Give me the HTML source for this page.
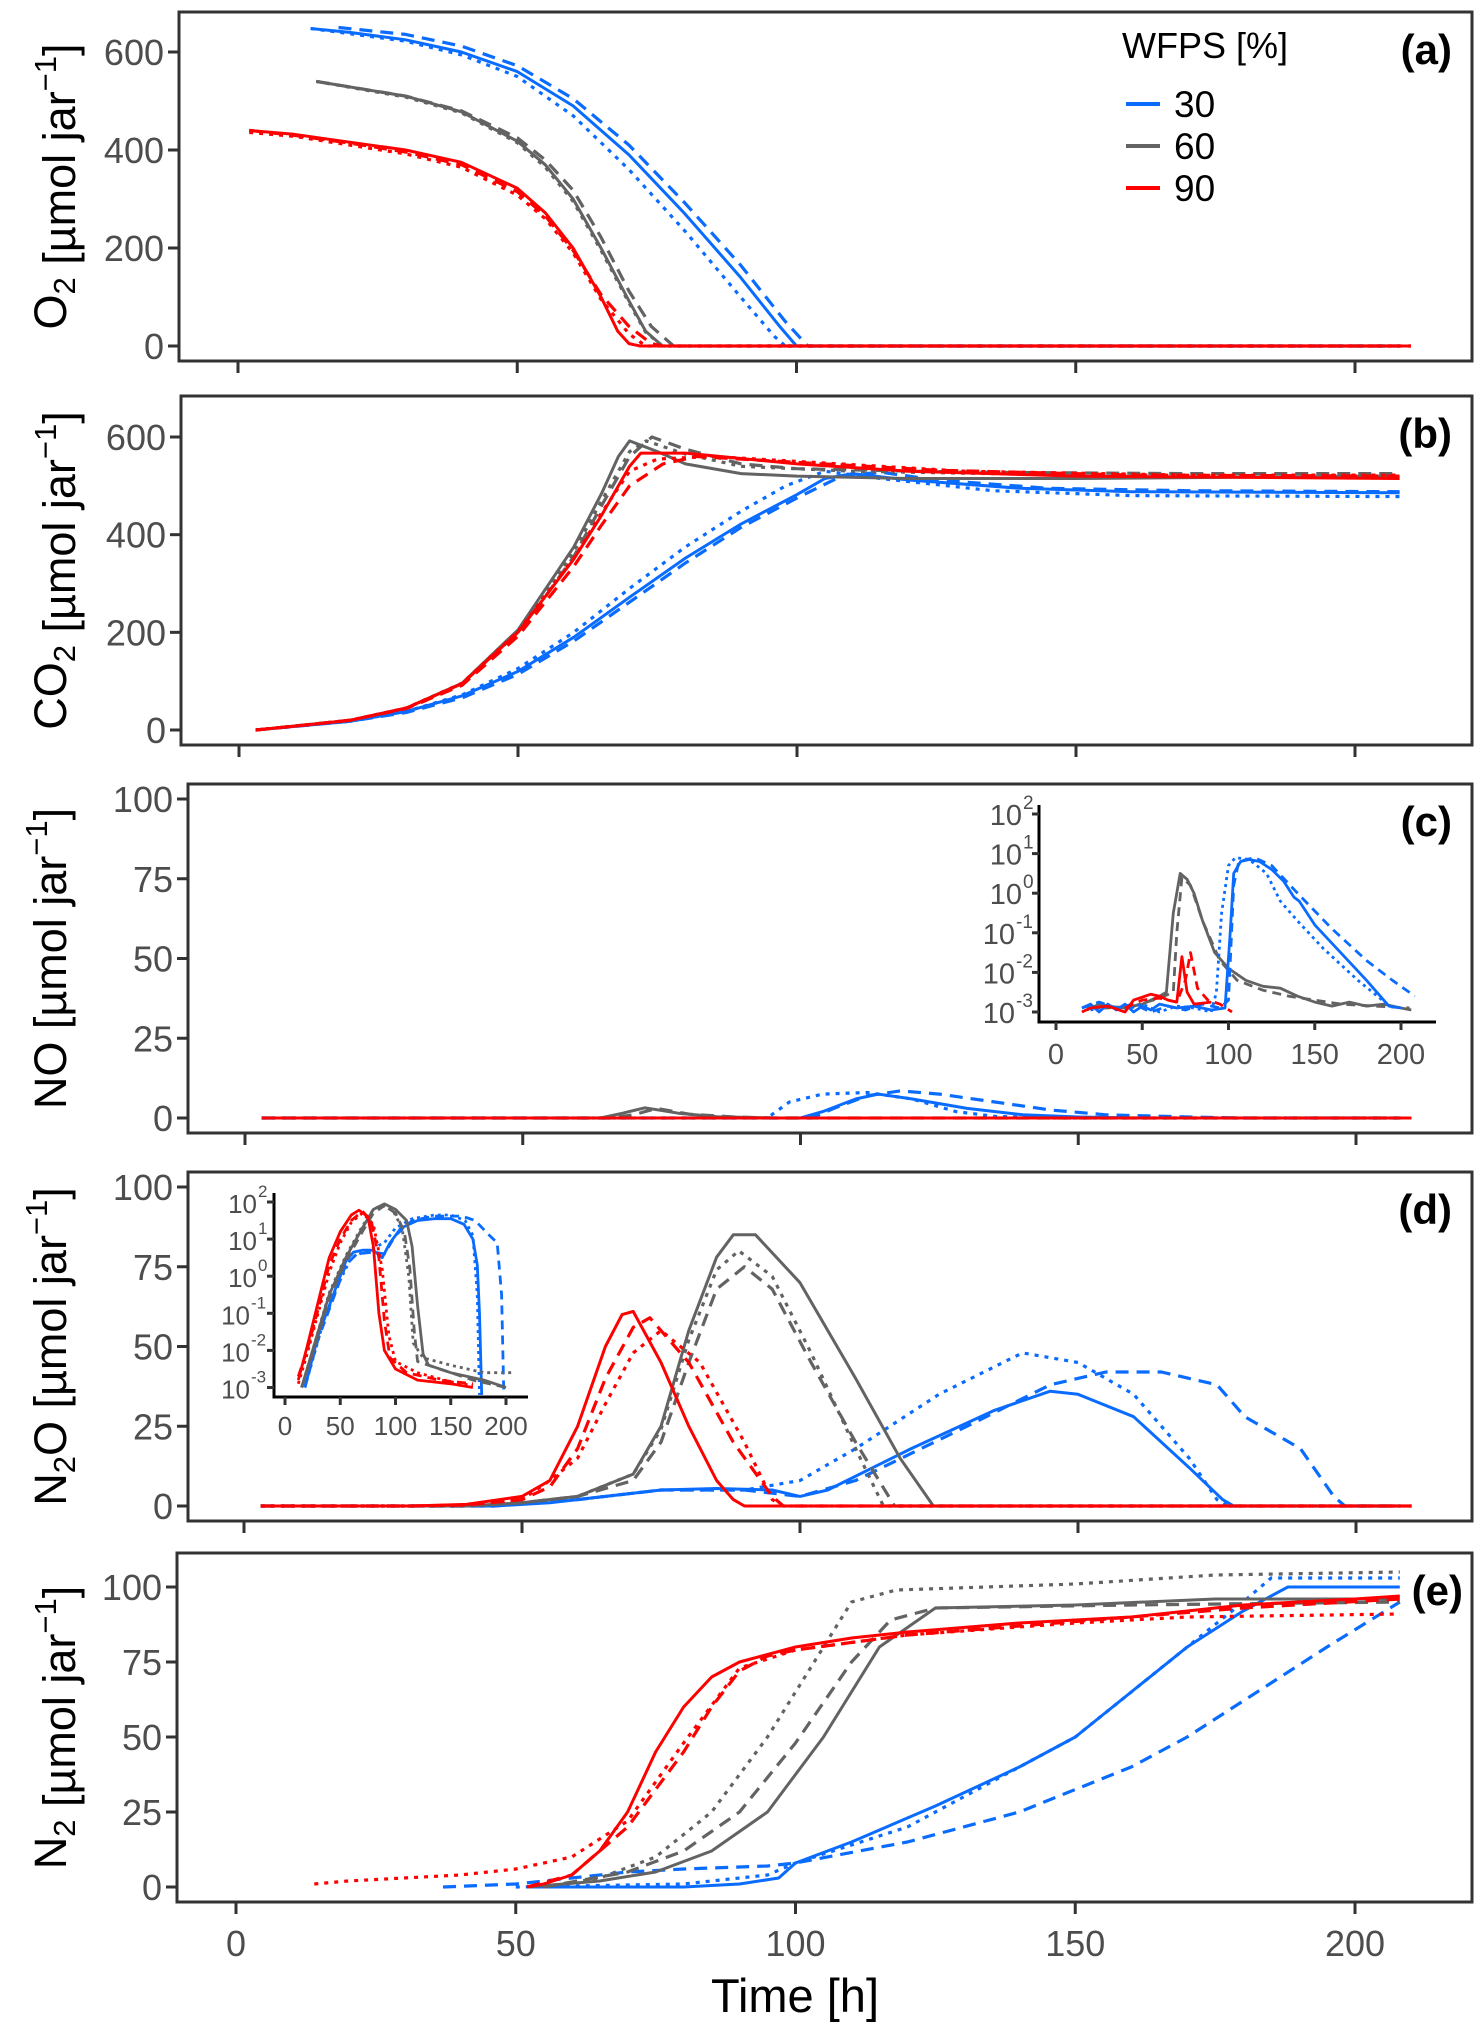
<!DOCTYPE html>
<html><head><meta charset="utf-8"><style>
html,body{margin:0;padding:0;background:#fff}
svg{display:block;font-family:"Liberation Sans",Arial,sans-serif}
</style></head><body>
<svg id="chart" width="1482" height="2030" viewBox="0 0 1482 2030" xmlns="http://www.w3.org/2000/svg"></svg>
<script>
// ---------- data (time [h], value) ----------
const xTicks = [0, 50, 100, 150, 200];
const yTicksAB = [0, 200, 400, 600];
const yTicksCDE = [0, 25, 50, 75, 100];
const logTicks = [-3, -2, -1, 0, 1, 2];
const wfpsLevels = ["30", "60", "90"];

// (a) O2
const o2_30_solid = [[13,648],[20,640],[30,625],[40,600],[50,560],[60,490],[70,390],[80,270],[90,140],[97,40],[100,0],[208,0]];
const o2_30_dash  = [[18,650],[30,636],[40,612],[50,572],[60,505],[70,410],[80,292],[90,165],[98,50],[102,0],[208,0]];
const o2_30_dot   = [[13,648],[30,622],[40,594],[50,550],[60,470],[70,360],[80,235],[90,100],[96,20],[98,0],[208,0]];
const o2_60_solid = [[14,540],[30,510],[40,478],[50,418],[55,370],[60,300],[65,200],[70,92],[73,30],[76,0],[208,0]];
const o2_60_dash  = [[14,540],[30,510],[40,480],[50,425],[55,380],[60,318],[65,222],[70,112],[74,40],[78,0],[208,0]];
const o2_60_dot   = [[14,540],[30,508],[40,476],[50,415],[55,365],[60,295],[65,195],[70,88],[73,28],[76,0],[208,0]];
const o2_90_solid = [[2,440],[10,432],[20,416],[30,400],[40,375],[50,322],[55,272],[60,200],[65,100],[68,30],[70,5],[72,0],[210,0]];
const o2_90_dash  = [[2,440],[10,430],[20,414],[30,396],[40,370],[50,315],[55,266],[60,195],[65,105],[70,40],[74,5],[76,0],[210,0]];
const o2_90_dot   = [[2,436],[10,428],[20,410],[30,392],[40,365],[50,308],[55,260],[60,190],[65,95],[70,25],[73,0],[210,0]];

// (b) CO2
const co2_30_solid = [[3,0],[20,18],[30,38],[40,70],[50,120],[60,190],[70,272],[80,352],[90,422],[100,482],[105,515],[110,525],[120,512],[140,495],[160,488],[208,486]];
const co2_30_dash  = [[3,0],[20,18],[30,36],[40,66],[50,114],[60,182],[70,262],[80,342],[90,415],[100,475],[108,520],[115,528],[125,512],[145,495],[170,490],[208,488]];
const co2_30_dot   = [[3,0],[20,18],[30,38],[40,72],[50,126],[60,200],[70,290],[80,375],[90,448],[98,500],[105,530],[115,515],[135,490],[160,480],[208,478]];
const co2_60_solid = [[3,0],[20,20],[30,45],[40,96],[50,205],[60,375],[65,485],[68,560],[70,592],[75,570],[80,545],[90,525],[100,520],[120,515],[150,515],[208,520]];
const co2_60_dash  = [[3,0],[20,20],[30,44],[40,92],[50,195],[60,355],[65,460],[70,560],[74,600],[80,575],[90,545],[100,535],[130,528],[170,525],[208,525]];
const co2_60_dot   = [[3,0],[20,20],[30,45],[40,95],[50,200],[60,365],[65,470],[70,570],[73,592],[80,565],[90,540],[110,530],[150,522],[208,520]];
const co2_90_solid = [[3,0],[10,8],[20,20],[30,45],[40,95],[50,200],[60,350],[65,440],[70,540],[72,567],[80,567],[100,545],[120,530],[150,520],[208,515]];
const co2_90_dash  = [[3,0],[10,8],[20,20],[30,44],[40,92],[50,192],[60,335],[65,420],[70,500],[76,545],[82,560],[100,548],[125,532],[160,522],[208,520]];
const co2_90_dot   = [[3,0],[10,8],[20,20],[30,45],[40,96],[50,202],[60,352],[65,445],[70,530],[75,555],[85,560],[100,550],[130,530],[170,522],[208,522]];

// (c) NO
const no_30_solid = [[3,0],[100,0],[104,2],[110,6],[114,7.5],[120,6],[130,3],[140,1],[150,0.3],[160,0],[208,0]];
const no_30_dash  = [[3,0],[102,0],[106,3],[112,7],[118,8.5],[125,7.5],[135,5],[145,2.5],[155,1],[170,0.3],[180,0],[208,0]];
const no_30_dot   = [[3,0],[94,0],[98,5],[104,7.5],[112,8],[120,6],[128,2],[135,0.5],[145,0],[208,0]];
const no_60_solid = [[3,0],[64,0],[68,1.5],[72,3.2],[78,1.5],[85,0.4],[95,0],[208,0]];
const no_60_dash  = [[3,0],[66,0],[70,1],[74,3],[80,1.2],[88,0.3],[95,0],[208,0]];
const no_90_solid = [[3,0],[210,0]];

// (c) inset, log10 of NO
const noLog_30_solid = [[15,-2.9],[20,-2.8],[25,-3],[30,-2.8],[35,-2.95],[40,-2.8],[45,-3],[50,-2.85],[55,-2.95],[60,-2.8],[70,-2.9],[80,-2.85],[90,-2.95],[98,-2.9],[101,-1.0],[103,0.5],[107,0.8],[112,0.85],[118,0.8],[125,0.6],[132,0.3],[138,-0.1],[141,-0.2],[150,-0.8],[165,-1.5],[180,-2.2],[193,-2.85],[200,-2.9]];
const noLog_30_dash  = [[15,-2.9],[25,-2.75],[35,-2.9],[45,-2.8],[55,-3],[65,-2.85],[75,-2.95],[85,-2.8],[95,-2.9],[100,-2.7],[103,0.2],[106,0.8],[115,0.9],[125,0.7],[140,0],[160,-0.9],[180,-1.7],[195,-2.2],[208,-2.6]];
const noLog_30_dot   = [[20,-2.95],[30,-2.85],[40,-2.95],[50,-2.8],[60,-3],[70,-2.85],[80,-2.9],[90,-3],[93,-2.5],[96,-0.5],[100,0.7],[104,0.9],[112,0.85],[122,0.5],[130,-0.2],[140,-0.7],[155,-1.4],[175,-2.2],[192,-2.8]];
const noLog_60_solid = [[18,-2.95],[25,-2.8],[30,-2.85],[40,-2.9],[50,-2.8],[60,-2.6],[64,-2.5],[68,-0.5],[72,0.5],[76,0.35],[80,0],[85,-0.7],[92,-1.5],[100,-1.9],[110,-2.2],[120,-2.35],[130,-2.4],[140,-2.6],[150,-2.75],[160,-2.85],[170,-2.75],[180,-2.85],[190,-2.8],[200,-2.9],[206,-2.95]];
const noLog_60_dash  = [[18,-2.9],[30,-2.9],[45,-2.85],[60,-2.65],[68,-2.5],[70,-1],[73,0.4],[78,0.2],[85,-0.7],[95,-1.7],[105,-2.2],[120,-2.45],[135,-2.6],[150,-2.7],[165,-2.8],[185,-2.85],[205,-2.9]];
const noLog_90_solid = [[15,-3],[20,-2.9],[30,-2.85],[40,-3],[45,-2.7],[55,-2.55],[60,-2.6],[65,-2.7],[70,-2.75],[73,-1.6],[76,-2.5],[80,-2.8],[90,-2.75]];
const noLog_90_dash  = [[40,-2.9],[50,-2.7],[60,-2.65],[70,-2.75],[75,-2.2],[78,-1.5],[82,-2.4],[88,-2.7],[95,-2.8],[102,-3]];

// (d) N2O
const n2o_30_solid = [[3,0],[45,0],[55,1],[65,3],[75,5],[85,5.5],[95,5],[100,3],[105,5],[120,18],[135,30],[145,36],[150,35],[160,28],[170,12],[176,2],[178,0],[208,0]];
const n2o_30_dash  = [[3,0],[45,0],[60,2],[75,5],[90,5],[100,3],[110,8],[130,25],[145,38],[155,42],[165,42],[175,38],[180,28],[190,18],[196,3],[198,0],[208,0]];
const n2o_30_dot   = [[3,0],[45,0],[60,2],[75,5],[90,5],[100,8],[110,18],[125,35],[140,48],[150,45],[160,35],[170,15],[175,2],[177,0],[208,0]];
const n2o_60_solid = [[3,0],[40,0],[50,1],[60,3],[70,10],[75,25],[80,55],[85,78],[88,85],[92,85],[100,70],[110,40],[118,15],[124,0],[208,0]];
const n2o_60_dash  = [[3,0],[40,0],[50,1],[60,3],[70,8],[75,20],[80,45],[85,68],[90,75],[95,68],[102,45],[110,20],[117,0],[208,0]];
const n2o_60_dot   = [[3,0],[40,0],[50,1],[60,3],[70,10],[75,24],[80,52],[85,74],[89,80],[95,72],[102,48],[110,18],[115,0],[208,0]];
const n2o_90_solid = [[3,0],[30,0],[40,0.5],[50,3],[55,8],[60,25],[65,50],[68,60],[70,61],[75,45],[80,25],[85,8],[88,2],[90,0],[210,0]];
const n2o_90_dash  = [[3,0],[30,0],[40,0.3],[50,2],[55,6],[60,18],[65,40],[70,56],[73,59],[80,45],[88,20],[95,3],[97,0],[210,0]];
const n2o_90_dot   = [[3,0],[30,0],[40,0.3],[50,2],[55,8],[60,15],[65,32],[70,48],[75,55],[82,45],[90,20],[95,2],[97,0],[210,0]];

// (d) inset, log10 of N2O
const n2oLog_30_solid = [[18,-3],[30,-1.6],[45,-0.4],[55,0.4],[62,0.65],[70,0.7],[80,0.7],[88,0.5],[95,0.9],[105,1.3],[120,1.5],[135,1.55],[150,1.55],[162,1.4],[170,1.0],[174,0.3],[176,-1],[178,-3.2]];
const n2oLog_30_dash  = [[18,-3],[30,-1.7],[45,-0.5],[55,0.3],[65,0.6],[80,0.65],[90,0.6],[100,1.1],[115,1.5],[135,1.62],[160,1.62],[172,1.5],[185,1.1],[192,0.9],[196,-0.5],[198,-3.2]];
const n2oLog_30_dot   = [[18,-3],[35,-1.2],[50,-0.1],[60,0.5],[75,0.7],[90,0.9],[100,1.3],[115,1.55],[135,1.65],[150,1.65],[163,1.5],[170,1.1],[174,-0.5],[176,-3.2]];
const n2oLog_60_solid = [[15,-3],[25,-2],[40,-0.5],[55,0.5],[70,1.3],[80,1.8],[90,1.95],[100,1.8],[110,1.5],[115,0.8],[120,-0.8],[125,-2.1],[130,-2.4],[150,-2.6],[180,-2.8],[200,-3]];
const n2oLog_60_dash  = [[15,-3],[25,-2.1],[40,-0.6],[55,0.4],[70,1.2],[80,1.7],[90,1.9],[100,1.7],[108,1.2],[113,0.2],[117,-1.5],[120,-2.3],[140,-2.5],[170,-2.8],[200,-3]];
const n2oLog_60_dot   = [[15,-3],[25,-2.0],[40,-0.45],[55,0.55],[70,1.35],[80,1.8],[88,1.92],[98,1.75],[106,1.3],[112,0],[116,-1.8],[125,-2.2],[150,-2.4],[180,-2.6],[205,-2.6]];
const n2oLog_90_solid = [[12,-2.8],[20,-1.9],[30,-0.7],[40,0.5],[50,1.2],[60,1.65],[67,1.78],[75,1.6],[80,0.8],[85,-1.0],[90,-2.0],[100,-2.5],[120,-2.8],[150,-2.9],[170,-3]];
const n2oLog_90_dash  = [[12,-2.7],[20,-2.0],[30,-0.9],[40,0.3],[50,1.0],[60,1.5],[70,1.75],[78,1.5],[85,0.5],[90,-1.2],[95,-2.2],[110,-2.6],[140,-2.8],[170,-2.9]];
const n2oLog_90_dot   = [[12,-2.9],[20,-2.1],[30,-1.0],[40,0.1],[50,0.9],[60,1.45],[70,1.7],[80,1.4],[88,0.2],[94,-1.6],[100,-2.3],[120,-2.6],[150,-2.85],[170,-2.95]];

// (e) N2
const n2_30_solid = [[52,0],[80,0],[90,1],[97,3],[100,8],[110,15],[125,27],[140,40],[150,50],[160,65],[170,80],[180,92],[188,100],[200,100],[208,100]];
const n2_30_dash  = [[37,0],[50,1],[60,3],[70,5],[80,6],[95,7],[100,8],[120,15],[140,25],[160,40],[170,50],[180,62],[195,80],[208,95]];
const n2_30_dot   = [[50,0],[80,1],[95,4],[100,8],[120,20],[150,50],[170,80],[180,95],[185,103],[208,103]];
const n2_60_solid = [[52,0],[65,2],[75,5],[85,12],[95,25],[105,50],[115,80],[125,93],[150,94],[175,96],[208,96]];
const n2_60_dash  = [[55,0],[70,5],[80,12],[90,25],[100,48],[110,75],[117,89],[125,93],[160,94],[208,95]];
const n2_60_dot   = [[55,0],[65,3],[75,10],[85,25],[95,50],[105,80],[110,95],[118,99],[150,101],[175,104],[208,105]];
const n2_90_solid = [[52,0],[55,1],[60,4],[65,12],[70,25],[75,45],[80,60],[85,70],[90,75],[100,80],[110,83],[120,85],[140,88],[160,90],[170,92],[180,94],[200,96],[208,97]];
const n2_90_dash  = [[52,0],[60,4],[70,20],[80,45],[85,60],[90,72],[95,77],[100,79],[120,84],[140,87],[160,90],[180,93],[208,96]];
const n2_90_dot   = [[14,1],[20,2],[30,3],[40,4],[50,6],[60,10],[70,22],[80,48],[90,73],[100,79],[120,84],[150,88],[170,90],[208,91]];

// ---------- drawing ----------
const NS = "http://www.w3.org/2000/svg";
const svg = document.getElementById("chart");
const COL = {"30":"#0a6cff","60":"#636363","90":"#ff0000"};
const DASH = {solid:null, dash:"13,8", dot:"4,6"};
function mk(tag, attrs, parent){ const e=document.createElementNS(NS,tag); for(const k in attrs) e.setAttribute(k,attrs[k]); (parent||svg).appendChild(e); return e; }

const panels = [
 {id:"a", top:12, left:179, x0:238, x200:1355, yk:294/600, ticks:yTicksAB, gas:"O", sub:"2",
  series:[["30","solid",o2_30_solid],["30","dash",o2_30_dash],["30","dot",o2_30_dot],["60","solid",o2_60_solid],["60","dash",o2_60_dash],["60","dot",o2_60_dot],["90","dot",o2_90_dot],["90","dash",o2_90_dash],["90","solid",o2_90_solid]]},
 {id:"b", top:396, left:181, x0:239, x200:1355, yk:293/600, ticks:yTicksAB, gas:"CO", sub:"2",
  series:[["30","solid",co2_30_solid],["30","dash",co2_30_dash],["30","dot",co2_30_dot],["60","solid",co2_60_solid],["60","dash",co2_60_dash],["60","dot",co2_60_dot],["90","dot",co2_90_dot],["90","dash",co2_90_dash],["90","solid",co2_90_solid]]},
 {id:"c", top:784, left:188, x0:245, x200:1356, yk:319/100, ticks:yTicksCDE, gas:"NO", sub:"",
  series:[["30","solid",no_30_solid],["30","dash",no_30_dash],["30","dot",no_30_dot],["60","solid",no_60_solid],["60","dash",no_60_dash],["90","solid",no_90_solid]]},
 {id:"d", top:1172, left:188, x0:244, x200:1356, yk:319/100, ticks:yTicksCDE, gas:"N", sub:"2", tail:"O",
  series:[["30","solid",n2o_30_solid],["30","dash",n2o_30_dash],["30","dot",n2o_30_dot],["60","solid",n2o_60_solid],["60","dash",n2o_60_dash],["60","dot",n2o_60_dot],["90","dot",n2o_90_dot],["90","dash",n2o_90_dash],["90","solid",n2o_90_solid]]},
 {id:"e", top:1553, left:177, x0:236, x200:1355, yk:300/100, ticks:yTicksCDE, gas:"N", sub:"2",
  series:[["30","solid",n2_30_solid],["30","dash",n2_30_dash],["30","dot",n2_30_dot],["60","solid",n2_60_solid],["60","dash",n2_60_dash],["60","dot",n2_60_dot],["90","dot",n2_90_dot],["90","dash",n2_90_dash],["90","solid",n2_90_solid]]}
];
const RIGHT = 1472, H = 349;

panels.forEach(p=>{
  const g = mk("g",{});
  
  
  const xs = t => p.x0 + t*(p.x200-p.x0)/200;
  const ys = v => p.top + 334 - v*p.yk;
  const cp = mk("clipPath",{id:"clip"+p.id}, g);
  mk("rect",{x:p.left, y:p.top, width:RIGHT-p.left, height:H}, cp);
  const sg = mk("g",{"clip-path":"url(#clip"+p.id+")"}, g);
  p.series.forEach(s=>{
    const d = s[2].map((pt,i)=>(i?"L":"M")+xs(pt[0]).toFixed(1)+","+ys(pt[1]).toFixed(1)).join("");
    const path = mk("path",{d:d, fill:"none", stroke:COL[s[0]], "stroke-width":s[1]==="solid"?3:3.2, "stroke-linejoin":"round"}, sg);
    if(DASH[s[1]]) path.setAttribute("stroke-dasharray", DASH[s[1]]);
    
    
  });
  const b = mk("rect",{x:p.left, y:p.top, width:RIGHT-p.left, height:H, fill:"none", stroke:"#333", "stroke-width":3}, g);
  
  
  p.ticks.forEach(v=>{
    const y = ys(v);
    mk("line",{x1:p.left-11, x2:p.left, y1:y, y2:y, stroke:"#333", "stroke-width":3}, g);
    const t = mk("text",{x:p.left-15, y:y+13, "text-anchor":"end", "font-size":36, fill:"#4d4d4d"}, g);
    t.textContent = v;
    
    
  });
  xTicks.forEach(v=>{
    const x = xs(v);
    mk("line",{x1:x, x2:x, y1:p.top+H, y2:p.top+H+12, stroke:"#333", "stroke-width":3}, g);
    if(p.id==="e"){
      const t = mk("text",{x:x, y:p.top+H+54, "text-anchor":"middle", "font-size":36, fill:"#4d4d4d"}, g);
      t.textContent = v;
      
      
    }
  });
  const cy = p.top + H/2;
  const yt = mk("text",{transform:"translate(66,"+cy+") rotate(-90)", "text-anchor":"middle", "font-size":45, fill:"#000"}, g);
  
  
  let html = p.gas;
  if(p.sub) html += '<tspan font-size="31" dy="9">'+p.sub+'</tspan>' + (p.tail?'<tspan dy="-9">'+p.tail+'</tspan>':'<tspan dy="-9"></tspan>');
  html += ' [µmol jar<tspan font-size="31" dy="-19">−1</tspan><tspan dy="19">]</tspan>';
  yt.innerHTML = html;
  const tag = mk("text",{x:1452, y:p.top+52, "text-anchor":"end", "font-size":42, "font-weight":"bold", fill:"#000"}, g);
  if(p.id==="e") tag.setAttribute("x", 1463);
  tag.textContent = "("+p.id+")";
  
  
});

const xt = mk("text",{x:795, y:2012, "text-anchor":"middle", "font-size":47, fill:"#000"});
xt.textContent = "Time [h]";



const lg = mk("g",{});


const lt = mk("text",{x:1122, y:58, "font-size":36, fill:"#000"}, lg);
lt.textContent = "WFPS [%]";


wfpsLevels.forEach((lv,i)=>{
  const y = 104 + i*42;
  const ln = mk("line",{x1:1126, x2:1160, y1:y, y2:y, stroke:COL[lv], "stroke-width":4}, lg);
  
  
  const tx = mk("text",{x:1174, y:y+13, "font-size":37, fill:"#000"}, lg);
  tx.textContent = lv;
  
  
});

const insets = [
 {id:"c", left:1039, bottom:1022, top:805, right:1436, x0:1056, x200:1401, y2:814, dec:39.6, fs:29, efs:19, lblY:1064,
  series:[["60","solid",noLog_60_solid],["60","dash",noLog_60_dash],["30","solid",noLog_30_solid],["30","dash",noLog_30_dash],["30","dot",noLog_30_dot],["90","solid",noLog_90_solid],["90","dash",noLog_90_dash]]},
 {id:"d", left:274, bottom:1397, top:1193, right:528, x0:285, x200:506, y2:1202, dec:37.1, fs:26, efs:17, lblY:1435,
  series:[["30","solid",n2oLog_30_solid],["30","dash",n2oLog_30_dash],["30","dot",n2oLog_30_dot],["60","solid",n2oLog_60_solid],["60","dash",n2oLog_60_dash],["60","dot",n2oLog_60_dot],["90","solid",n2oLog_90_solid],["90","dash",n2oLog_90_dash],["90","dot",n2oLog_90_dot]]}
];
insets.forEach(n=>{
  const g = mk("g",{});
  
  
  const xs = t => n.x0 + t*(n.x200-n.x0)/200;
  const ys = l => n.y2 + (2-l)*n.dec;
  const cp = mk("clipPath",{id:"iclip"+n.id}, g);
  mk("rect",{x:n.left+2, y:n.top, width:n.right-n.left, height:n.bottom-n.top-2}, cp);
  const sg = mk("g",{"clip-path":"url(#iclip"+n.id+")"}, g);
  n.series.forEach(s=>{
    const d = s[2].map((pt,i)=>(i?"L":"M")+xs(pt[0]).toFixed(1)+","+ys(pt[1]).toFixed(1)).join("");
    const path = mk("path",{d:d, fill:"none", stroke:COL[s[0]], "stroke-width":2.8, "stroke-linejoin":"round"}, sg);
    if(s[1]==="dash") path.setAttribute("stroke-dasharray","9,6");
    if(s[1]==="dot") path.setAttribute("stroke-dasharray","3,4");
    
    
  });
  mk("path",{d:"M"+n.left+","+n.top+"V"+n.bottom+"H"+n.right, fill:"none", stroke:"#000", "stroke-width":3}, g);
  logTicks.forEach(l=>{
    const y = ys(l);
    mk("line",{x1:n.left-7, x2:n.left, y1:y, y2:y, stroke:"#333", "stroke-width":3}, g);
    const xr = n.left-(l<0?24:17);
    const t = mk("text",{x:xr, y:y+11, "text-anchor":"end", "font-size":n.fs, fill:"#4d4d4d"}, g);
    t.textContent = "10";
    
    
    const e = mk("text",{x:xr+1, y:y-5, "font-size":n.efs, fill:"#4d4d4d"}, g);
    e.textContent = String(l);
  });
  xTicks.forEach(v=>{
    const x = xs(v);
    mk("line",{x1:x, x2:x, y1:n.bottom, y2:n.bottom+8, stroke:"#333", "stroke-width":3}, g);
    const t = mk("text",{x:x, y:n.lblY, "text-anchor":"middle", "font-size":n.fs, fill:"#4d4d4d"}, g);
    t.textContent = v;
    
    
  });
});
</script>
</body></html>
